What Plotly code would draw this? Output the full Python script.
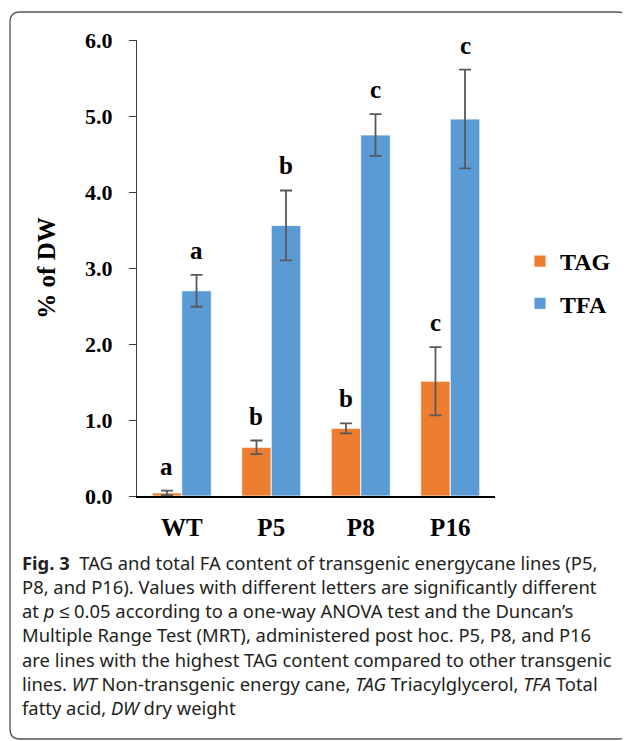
import plotly.graph_objects as go

categories = ["WT", "P5", "P8", "P16"]
tag_values = [0.04, 0.64, 0.89, 1.51]
tag_errors = [0.03, 0.09, 0.065, 0.45]
tfa_values = [2.70, 3.56, 4.75, 4.96]
tfa_errors = [0.21, 0.46, 0.275, 0.65]
tag_letters = ["a", "b", "b", "c"]
tfa_letters = ["a", "b", "c", "c"]
y_ticks = [0, 1, 2, 3, 4, 5, 6]
y_tick_labels = ["0.0", "1.0", "2.0", "3.0", "4.0", "5.0", "6.0"]

caption_lines = [
    "<b>Fig. 3</b>  TAG and total FA content of transgenic energycane lines (P5,",
    "P8, and P16). Values with different letters are significantly different",
    "at <i>p</i> ≤ 0.05 according to a one-way ANOVA test and the Duncan’s",
    "Multiple Range Test (MRT), administered post hoc. P5, P8, and P16",
    "are lines with the highest TAG content compared to other transgenic",
    "lines. <i>WT</i> Non-transgenic energy cane, <i>TAG</i> Triacylglycerol, <i>TFA</i> Total",
    "fatty acid, <i>DW</i> dry weight",
]

# page has an 8px body margin: figure placed at (8, 8)
OFF = 8
W, H = 630 - OFF, 741 - OFF
L, T, PW, PH = 137 - OFF, 40 - OFF, 358, 456
BARGAP = 0.34

def px(page_x):
    return (page_x - OFF - L) / PW

def py(page_y):
    return (T + PH - (page_y - OFF)) / PH

SERIF = "Liberation Serif, Times New Roman, serif"
ORANGE = "#ED7D31"
BLUE = "#5B9BD5"
ERR = "#595959"

fig = go.Figure()
fig.add_trace(go.Bar(
    name="TAG", x=categories, y=tag_values, legendgroup="tag",
    marker=dict(color=ORANGE, line=dict(color="white", width=0.8)),
    error_y=dict(type="data", array=tag_errors, visible=True,
                 color=ERR, thickness=1.8, width=6),
))
fig.add_trace(go.Bar(
    name="TFA", x=categories, y=tfa_values, legendgroup="tfa",
    marker=dict(color=BLUE, line=dict(color="white", width=0.8)),
    error_y=dict(type="data", array=tfa_errors, visible=True,
                 color=ERR, thickness=1.8, width=6),
))

annotations = []
cat_px = PW / len(categories)
half = (1 - BARGAP) / 4 * cat_px
for i, c in enumerate(categories):
    for vals, errs, letters, sh in ((tag_values, tag_errors, tag_letters, -half),
                                    (tfa_values, tfa_errors, tfa_letters, half)):
        annotations.append(dict(
            x=c, y=vals[i] + errs[i], xref="x", yref="y", text=letters[i],
            showarrow=False, xanchor="center", yanchor="bottom",
            xshift=sh, yshift=9,
            font=dict(family=SERIF, size=25, color="black", weight="bold"),
        ))

baselines = [568, 592, 616, 640, 665, 689, 713]
for line, b in zip(caption_lines, baselines):
    annotations.append(dict(
        x=px(20), y=py(b - 6), xref="paper", yref="paper", text=line,
        showarrow=False, xanchor="left", yanchor="middle",
        font=dict(family="Noto Sans, sans-serif", size=18.4, color="#231f20"),
    ))

# rounded border (page coordinates)
x0, y0, x1, y1, r = 10, 12, 628, 739, 10
path = (
    f"M {px(x0)},{py(y0 + r)} "
    f"Q {px(x0)},{py(y0)} {px(x0 + r)},{py(y0)} "
    f"L {px(x1 - r)},{py(y0)} "
    f"Q {px(x1)},{py(y0)} {px(x1)},{py(y0 + r)} "
    f"L {px(x1)},{py(y1 - r)} "
    f"Q {px(x1)},{py(y1)} {px(x1 - r)},{py(y1)} "
    f"L {px(x0 + r)},{py(y1)} "
    f"Q {px(x0)},{py(y1)} {px(x0)},{py(y1 - r)} Z"
)

fig.update_layout(
    width=W, height=H,
    margin=dict(l=L, r=W - L - PW, t=T, b=H - T - PH, autoexpand=False),
    paper_bgcolor="white", plot_bgcolor="white",
    barmode="group", bargap=BARGAP, bargroupgap=0,
    showlegend=True,
    legend=dict(
        x=px(520), y=py(239), xanchor="left", yanchor="top",
        font=dict(family=SERIF, size=24, color="black", weight="bold"),
        tracegroupgap=8, traceorder="grouped",
        bgcolor="rgba(0,0,0,0)",
    ),
    annotations=annotations,
    shapes=[dict(type="path", path=path, xref="paper", yref="paper",
                 line=dict(color="#555555", width=1.3), layer="above")],
    xaxis=dict(
        showline=True, linecolor="black", linewidth=1.6,
        ticks="", showgrid=False, zeroline=False,
        tickfont=dict(family=SERIF, size=25, color="black", weight="bold"),
        ticklabelstandoff=8,
    ),
    yaxis=dict(
        range=[0, 6], tickvals=y_ticks, ticktext=y_tick_labels,
        showline=True, linecolor="#404040", linewidth=1.2,
        ticks="outside", ticklen=7, tickcolor="#404040", tickwidth=1.2,
        showgrid=False, zeroline=False,
        tickfont=dict(family=SERIF, size=22, color="black", weight="bold"),
        ticklabelstandoff=12,
        title=dict(text="% of DW", standoff=22,
                   font=dict(family=SERIF, size=25, color="black", weight="bold")),
    ),
)

fig.write_html("out.html")
